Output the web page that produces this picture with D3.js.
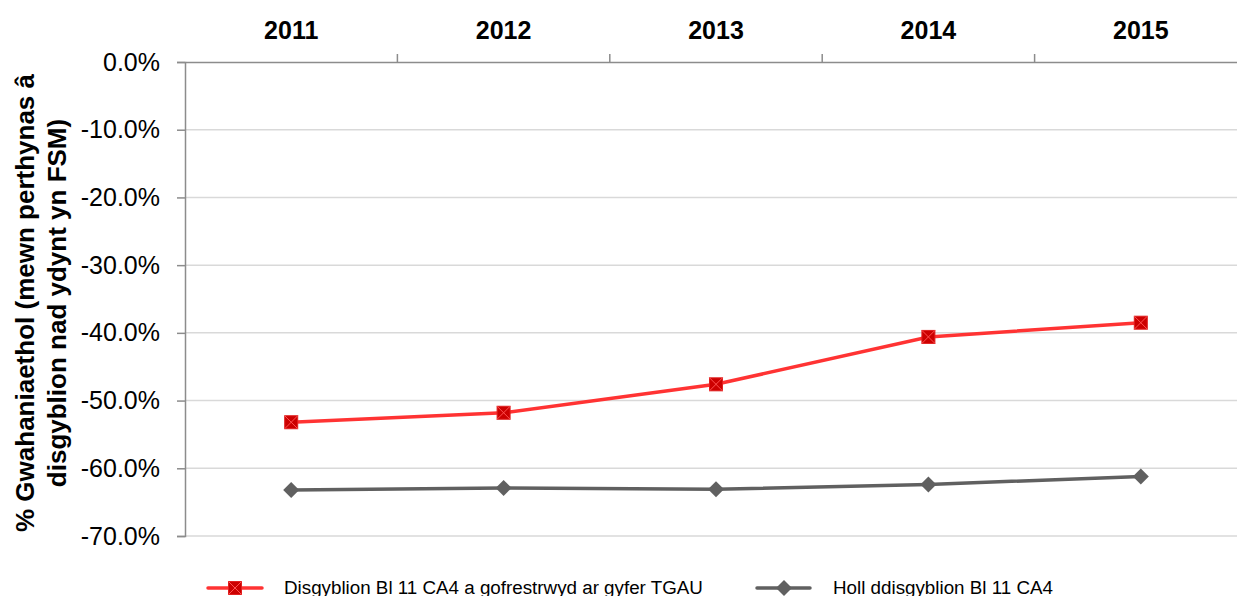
<!DOCTYPE html>
<html>
<head>
<meta charset="utf-8">
<script src="https://cdn.jsdelivr.net/npm/d3@7"></script>
<style>
body { margin: 0; background: #fff; }
svg { font-family: "Liberation Sans", Arial, sans-serif; }
</style>
</head>
<body>
<svg id="chart" width="1237" height="596"></svg>
<script>
const years = ["2011", "2012", "2013", "2014", "2015"];
const redValues = [-0.532, -0.518, -0.476, -0.406, -0.385];
const greyValues = [-0.632, -0.629, -0.631, -0.624, -0.612];
const yTicks = [0, -0.1, -0.2, -0.3, -0.4, -0.5, -0.6, -0.7];
const seriesNames = ["Disgyblion Bl 11 CA4 a gofrestrwyd ar gyfer TGAU", "Holl ddisgyblion Bl 11 CA4"];

var svg = d3.select('#chart');

var plotLeft = 185, plotRight = 1247, plotTop = 62, plotBottom = 536;

var x = d3.scaleBand().domain(years).range([plotLeft, plotRight]);
var y = d3.scaleLinear().domain([-0.7, 0]).range([plotBottom, plotTop]);

// excel style labels use a plain hyphen
var pct = d => (d * 100).toFixed(1) + '%';

// gridlines
svg.append('g')
	.selectAll('line')
	.data(yTicks.slice(1))
	.join('line')
	.attr('x1', plotLeft).attr('x2', plotRight)
	.attr('y1', d => y(d)).attr('y2', d => y(d))
	.attr('stroke', '#d9d9d9').attr('stroke-width', 1.5);

// y axis
var yAxis = svg.append('g')
	.attr('transform', `translate(${plotLeft},0)`)
	.call(d3.axisLeft(y).tickValues(yTicks).tickFormat(pct).tickSize(8).tickPadding(17));
yAxis.select('.domain').attr('stroke', '#8c8c8c').attr('stroke-width', 1.5);
yAxis.selectAll('.tick line').attr('stroke', '#8c8c8c').attr('stroke-width', 1.5);
yAxis.selectAll('text').attr('font-size', 25).attr('fill', '#000').attr('font-family', '"Liberation Sans", Arial, sans-serif');

// x axis at 0 line, labels on top
var xAxis = svg.append('g')
	.attr('transform', `translate(0,${y(0)})`)
	.call(d3.axisTop(x).tickSize(0).tickPadding(23));
xAxis.select('.domain').attr('stroke', '#8c8c8c').attr('stroke-width', 1.5);
xAxis.selectAll('text').attr('font-size', 25).attr('font-weight', 'bold').attr('fill', '#000')
	.attr('font-family', '"Liberation Sans", Arial, sans-serif');
// tick marks between categories
svg.append('g')
	.selectAll('line')
	.data(years)
	.join('line')
	.attr('x1', (d, i) => plotLeft + x.step() * (i + 1))
	.attr('x2', (d, i) => plotLeft + x.step() * (i + 1))
	.attr('y1', y(0) - 8).attr('y2', y(0))
	.attr('stroke', '#8c8c8c').attr('stroke-width', 1.5);

// y title
var title = svg.append('text')
	.attr('transform', 'translate(34,303) rotate(-90)')
	.attr('text-anchor', 'middle')
	.attr('font-size', 26).attr('font-weight', 'bold');
title.append('tspan').attr('x', 0).attr('dy', 0).text('% Gwahaniaethol (mewn perthynas â');
title.append('tspan').attr('x', 0).attr('dy', 32).text('disgyblion nad ydynt yn FSM)');

var cx = d => x(d) + x.bandwidth() / 2;
var line = d3.line().x(d => cx(d.year)).y(d => y(d.value));

var redData = years.map((yr, i) => ({ year: yr, value: redValues[i] }));
var greyData = years.map((yr, i) => ({ year: yr, value: greyValues[i] }));

svg.append('path').datum(greyData)
	.attr('d', line).attr('fill', 'none').attr('stroke', '#606060').attr('stroke-width', 3.5);
svg.append('path').datum(redData)
	.attr('d', line).attr('fill', 'none').attr('stroke', '#ff3333').attr('stroke-width', 3.5);

function diamond(g, px, py) {
	g.append('path')
		.attr('d', `M${px},${py - 8}L${px + 8},${py}L${px},${py + 8}L${px - 8},${py}Z`)
		.attr('fill', '#606060');
}
function crossSquare(g, px, py) {
	var s = 6.5;
	g.append('rect')
		.attr('x', px - s).attr('y', py - s).attr('width', 2 * s).attr('height', 2 * s)
		.attr('fill', '#cc0000').attr('stroke', '#e02020').attr('stroke-width', 1);
	g.append('path')
		.attr('d', `M${px - s},${py - s}L${px + s},${py + s}M${px + s},${py - s}L${px - s},${py + s}`)
		.attr('stroke', '#ff5050').attr('stroke-width', 1);
}

var markers = svg.append('g');
greyData.forEach(d => diamond(markers, cx(d.year), y(d.value)));
redData.forEach(d => crossSquare(markers, cx(d.year), y(d.value)));

// legend
var legend = svg.append('g');
var ly = 588;
legend.append('line').attr('x1', 208).attr('x2', 262).attr('y1', ly).attr('y2', ly)
	.attr('stroke', '#ff3333').attr('stroke-width', 3.5).attr('stroke-linecap', 'round');
crossSquare(legend, 235, ly);
legend.append('text').attr('x', 284).attr('y', ly + 6).attr('font-size', 18.8).text(seriesNames[0]);

legend.append('line').attr('x1', 757).attr('x2', 810).attr('y1', ly).attr('y2', ly)
	.attr('stroke', '#606060').attr('stroke-width', 3.5).attr('stroke-linecap', 'round');
diamond(legend, 784, ly);
legend.append('text').attr('x', 833).attr('y', ly + 6).attr('font-size', 18.8).text(seriesNames[1]);
</script>
</body>
</html>
